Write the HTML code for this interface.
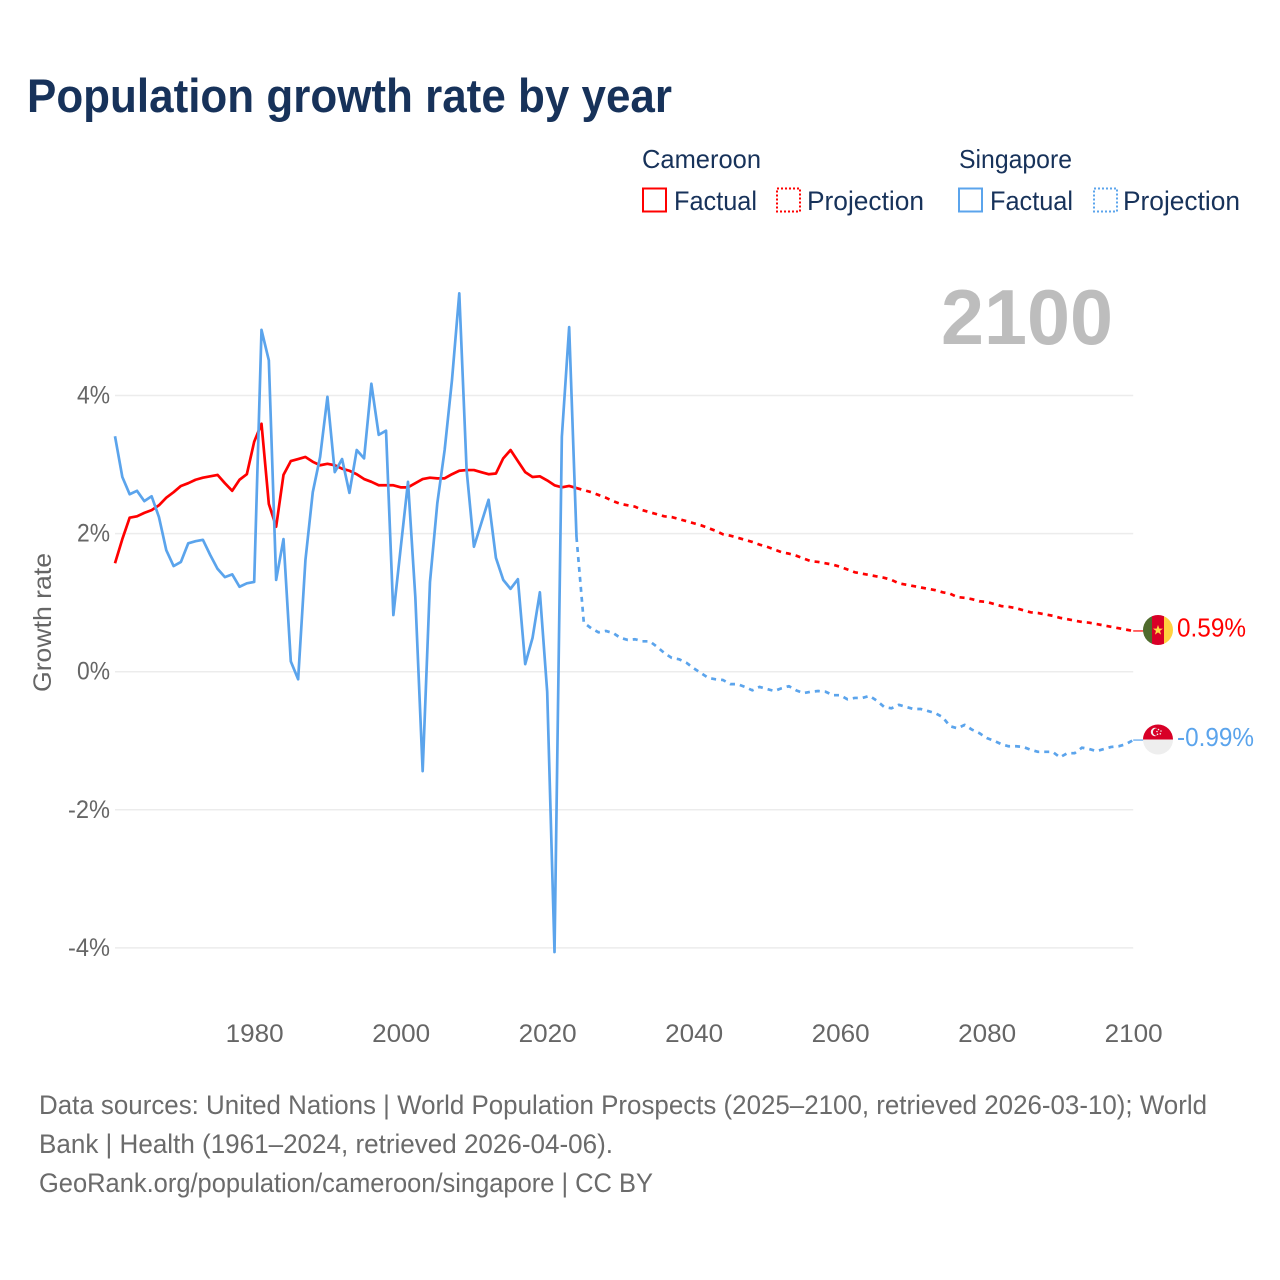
<!DOCTYPE html>
<html lang="en">
<head>
<meta charset="utf-8">
<title>Population growth rate by year</title>
<style>
html,body{margin:0;padding:0;background:#fff;width:1280px;height:1280px;overflow:hidden}
svg{display:block}
text{font-family:"Liberation Sans",sans-serif}
</style>
</head>
<body>
<svg id="chart" xmlns="http://www.w3.org/2000/svg" width="1280" height="1280" viewBox="0 0 1280 1280">
  <rect x="0" y="0" width="1280" height="1280" fill="#fff"/>
  <text x="27" y="112" font-size="47" font-weight="700" fill="#17325a" textLength="645" lengthAdjust="spacingAndGlyphs">Population growth rate by year</text>

  <g>
    <text x="642" y="168" font-size="26" fill="#17325a" textLength="119" lengthAdjust="spacingAndGlyphs">Cameroon</text>
    <text x="959" y="168" font-size="26" fill="#17325a" textLength="113" lengthAdjust="spacingAndGlyphs">Singapore</text>
    <rect x="643" y="188.500" width="23" height="23" fill="none" stroke="#ff0000" stroke-width="2"/>
    <text x="674" y="210" font-size="27" fill="#17325a" textLength="83" lengthAdjust="spacingAndGlyphs">Factual</text>
    <rect x="777" y="188.500" width="23" height="23" fill="none" stroke="#ff0000" stroke-width="2" stroke-dasharray="2 2"/>
    <text x="807" y="210" font-size="27" fill="#17325a" textLength="117" lengthAdjust="spacingAndGlyphs">Projection</text>
    <rect x="959" y="188.500" width="23" height="23" fill="none" stroke="#5ba4ec" stroke-width="2"/>
    <text x="990" y="210" font-size="27" fill="#17325a" textLength="83" lengthAdjust="spacingAndGlyphs">Factual</text>
    <rect x="1094" y="188.500" width="23" height="23" fill="none" stroke="#5ba4ec" stroke-width="2" stroke-dasharray="2 2"/>
    <text x="1123" y="210" font-size="27" fill="#17325a" textLength="117" lengthAdjust="spacingAndGlyphs">Projection</text>
  </g>

  <text x="941" y="344" font-size="78" font-weight="700" fill="#bdbdbd" textLength="172" lengthAdjust="spacingAndGlyphs">2100</text>
  <text transform="translate(51 692) rotate(-90)" x="0" y="0" font-size="25" fill="#666" textLength="139" lengthAdjust="spacingAndGlyphs">Growth rate</text>

  <g id="grid"></g>
  <g id="yticks"></g>
  <g id="xticks"></g>
  <g id="series"></g>

  <g>
    <clipPath id="cmClip"><circle cx="1158" cy="630" r="15"/></clipPath>
    <g clip-path="url(#cmClip)">
      <rect x="1143" y="615" width="9" height="30" fill="#4f6b2d"/>
      <rect x="1152" y="615" width="12" height="30" fill="#d80027"/>
      <rect x="1164" y="615" width="9" height="30" fill="#ffd23f"/>
    </g>
    <polygon points="1158,625 1159.300,628.600 1163,628.600 1160,630.900 1161.100,634.600 1158,632.400 1154.900,634.600 1156,630.900 1153,628.600 1156.700,628.600" fill="#ffda44"/>
  </g>
  <g>
    <clipPath id="sgClip"><circle cx="1158" cy="739.500" r="15"/></clipPath>
    <g clip-path="url(#sgClip)">
      <rect x="1143" y="724.500" width="30" height="15" fill="#d80027"/>
      <rect x="1143" y="739.500" width="30" height="15" fill="#eeeeee"/>
    </g>
    <circle cx="1155" cy="732" r="4.200" fill="#f0f0f0"/>
    <circle cx="1156.700" cy="732" r="3.800" fill="#d80027"/>
    <circle cx="1158.500" cy="729.500" r="0.800" fill="#f0f0f0"/>
    <circle cx="1161" cy="731" r="0.800" fill="#f0f0f0"/>
    <circle cx="1160.300" cy="733.800" r="0.800" fill="#f0f0f0"/>
    <circle cx="1157.500" cy="734.300" r="0.800" fill="#f0f0f0"/>
    <circle cx="1157" cy="731.500" r="0.800" fill="#f0f0f0"/>
  </g>
  <text x="1177" y="636.500" font-size="25.500" fill="#ff0000" textLength="69" lengthAdjust="spacingAndGlyphs">0.59%</text>
  <text x="1177" y="746" font-size="25.500" fill="#5ba4ec" textLength="77" lengthAdjust="spacingAndGlyphs">-0.99%</text>

  <g font-size="26.500" fill="#6b6b6b">
    <text x="39" y="1114" textLength="1168" lengthAdjust="spacingAndGlyphs">Data sources: United Nations | World Population Prospects (2025–2100, retrieved 2026-03-10); World</text>
    <text x="39" y="1153" textLength="574" lengthAdjust="spacingAndGlyphs">Bank | Health (1961–2024, retrieved 2026-04-06).</text>
    <text x="39" y="1192" textLength="614" lengthAdjust="spacingAndGlyphs">GeoRank.org/population/cameroon/singapore | CC BY</text>
  </g>
</svg>
<script>
const firstFactualYear = 1961;
const firstProjectionYear = 2024;
const yTickValues = [4, 2, 0, -2, -4];
const yTickLabels = ["4%", "2%", "0%", "-2%", "-4%"];
const xTickValues = [1980, 2000, 2020, 2040, 2060, 2080, 2100];
const xTickLabels = ["1980", "2000", "2020", "2040", "2060", "2080", "2100"];

const cameroonFactual = [1.57,1.92,2.23,2.25,2.30,2.34,2.41,2.52,2.60,2.69,2.73,2.78,2.81,2.83,2.85,2.73,2.62,2.78,2.86,3.33,3.59,2.43,2.10,2.85,3.05,3.08,3.11,3.04,2.99,3.01,2.99,2.94,2.91,2.86,2.79,2.75,2.70,2.70,2.70,2.67,2.67,2.73,2.79,2.81,2.80,2.80,2.86,2.91,2.92,2.92,2.89,2.86,2.87,3.09,3.21,3.05,2.89,2.82,2.83,2.77,2.70,2.67,2.69,2.66];

const singaporeFactual = [3.41,2.82,2.57,2.62,2.47,2.54,2.24,1.76,1.53,1.59,1.86,1.89,1.91,1.69,1.49,1.37,1.41,1.23,1.28,1.30,4.95,4.51,1.33,1.92,0.15,-0.11,1.62,2.60,3.11,3.98,2.89,3.08,2.59,3.21,3.09,4.17,3.43,3.49,0.82,1.79,2.75,1.08,-1.44,1.30,2.44,3.21,4.22,5.48,2.92,1.81,2.15,2.49,1.65,1.33,1.20,1.34,0.11,0.49,1.15,-0.29,-4.06,3.40,4.99,1.95];

const cameroonProjection = [2.66,2.63,2.60,2.56,2.52,2.47,2.43,2.41,2.39,2.34,2.31,2.28,2.25,2.24,2.21,2.18,2.15,2.12,2.08,2.04,1.99,1.97,1.94,1.91,1.88,1.84,1.81,1.77,1.73,1.71,1.68,1.64,1.60,1.59,1.57,1.55,1.52,1.48,1.44,1.42,1.40,1.38,1.36,1.33,1.28,1.26,1.24,1.22,1.20,1.18,1.15,1.13,1.08,1.07,1.05,1.02,1.01,0.98,0.95,0.94,0.92,0.89,0.86,0.85,0.83,0.81,0.78,0.76,0.74,0.72,0.71,0.69,0.67,0.65,0.63,0.61,0.59];

const singaporeProjection = [1.95,0.71,0.63,0.57,0.59,0.56,0.49,0.46,0.47,0.44,0.44,0.36,0.27,0.20,0.18,0.13,0.05,-0.02,-0.09,-0.11,-0.12,-0.18,-0.18,-0.22,-0.27,-0.22,-0.25,-0.28,-0.24,-0.21,-0.27,-0.31,-0.29,-0.28,-0.29,-0.34,-0.34,-0.40,-0.38,-0.38,-0.35,-0.42,-0.51,-0.53,-0.48,-0.51,-0.54,-0.54,-0.57,-0.60,-0.66,-0.79,-0.82,-0.77,-0.84,-0.89,-0.96,-1.00,-1.05,-1.08,-1.08,-1.09,-1.13,-1.16,-1.16,-1.16,-1.24,-1.18,-1.18,-1.10,-1.12,-1.15,-1.12,-1.09,-1.08,-1.05,-0.99];

const SVGNS = "http://www.w3.org/2000/svg";
function xScale(year) { return 115 + (year - 1961) * (1133.2 - 115) / (2100 - 1961); }
function yScale(value) { return 671.7 - value * 69.05; }
function pathFrom(values, startYear) {
  return values.map(function (v, i) {
    return (i ? "L" : "M") + xScale(startYear + i).toFixed(2) + " " + yScale(v).toFixed(2);
  }).join(" ");
}
function make(tag, attrs) {
  const el = document.createElementNS(SVGNS, tag);
  Object.keys(attrs).forEach(function (k) { el.setAttribute(k, attrs[k]); });
  return el;
}

const gridGroup = document.getElementById("grid");
const yTickGroup = document.getElementById("yticks");
const xTickGroup = document.getElementById("xticks");
const seriesGroup = document.getElementById("series");

yTickValues.forEach(function (v, i) {
  const line = make("line", { x1: xScale(1961), x2: xScale(2100), y1: yScale(v), y2: yScale(v), stroke: "#ececec", "stroke-width": 1.5 });
  
  
  gridGroup.appendChild(line);

  const label = make("text", { x: 110, y: yScale(v) + 8, "text-anchor": "end", "font-size": 25, fill: "#666", textLength: v < 0 ? 42 : 33, lengthAdjust: "spacingAndGlyphs" });
  
  
  label.textContent = yTickLabels[i];
  yTickGroup.appendChild(label);
});

xTickValues.forEach(function (year, i) {
  const label = make("text", { x: xScale(year) + 0.5, y: 1042, "text-anchor": "middle", "font-size": 25, fill: "#666", textLength: 58, lengthAdjust: "spacingAndGlyphs" });
  
  
  label.textContent = xTickLabels[i];
  xTickGroup.appendChild(label);
});

function addLine(values, startYear, color, dashed, name) {
  const attrs = { d: pathFrom(values, startYear), fill: "none", stroke: color, "stroke-width": 2.7, "stroke-linejoin": "round" };
  if (dashed) attrs["stroke-dasharray"] = "5 5";
  const path = make("path", attrs);
  
  
  seriesGroup.appendChild(path);
}
function addConnector(values, color, name) {
  const yEnd = yScale(values[values.length - 1]);
  const connector = make("line", { x1: xScale(2100), x2: 1145, y1: yEnd, y2: yEnd, stroke: color, "stroke-width": 1.2 });
  
  
  seriesGroup.appendChild(connector);
}

addLine(cameroonProjection, firstProjectionYear, "#ff0000", true, "cameroon-projection-line");
addLine(singaporeProjection, firstProjectionYear, "#5ba4ec", true, "singapore-projection-line");
addLine(cameroonFactual, firstFactualYear, "#ff0000", false, "cameroon-factual-line");
addLine(singaporeFactual, firstFactualYear, "#5ba4ec", false, "singapore-factual-line");
addConnector(cameroonProjection, "#ff0000", "cameroon-end-connector");
addConnector(singaporeProjection, "#5ba4ec", "singapore-end-connector");
</script>
</body>
</html>
